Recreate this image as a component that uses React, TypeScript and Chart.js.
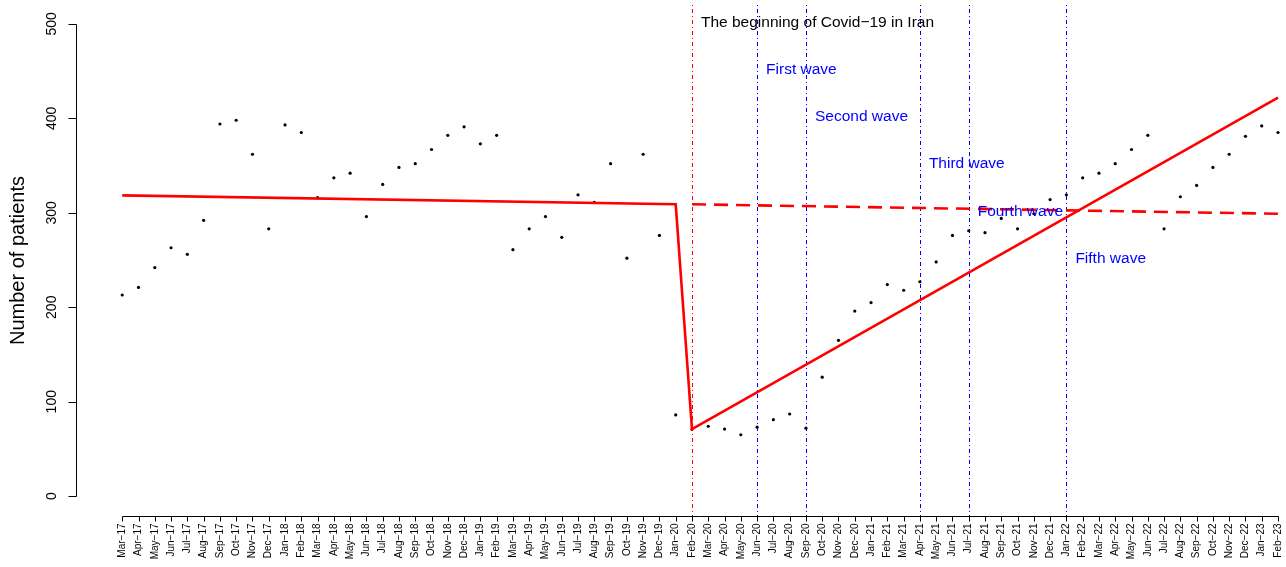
import React, { useEffect, useRef } from "react";
import { Chart, registerables } from "chart.js";

Chart.register(...registerables);

// Monthly reporting periods
const months = [
  "Mar−17", "Apr−17", "May−17", "Jun−17", "Jul−17", "Aug−17", "Sep−17", "Oct−17", "Nov−17", "Dec−17", "Jan−18", "Feb−18",
  "Mar−18", "Apr−18", "May−18", "Jun−18", "Jul−18", "Aug−18", "Sep−18", "Oct−18", "Nov−18", "Dec−18", "Jan−19", "Feb−19",
  "Mar−19", "Apr−19", "May−19", "Jun−19", "Jul−19", "Aug−19", "Sep−19", "Oct−19", "Nov−19", "Dec−19", "Jan−20", "Feb−20",
  "Mar−20", "Apr−20", "May−20", "Jun−20", "Jul−20", "Aug−20", "Sep−20", "Oct−20", "Nov−20", "Dec−20", "Jan−21", "Feb−21",
  "Mar−21", "Apr−21", "May−21", "Jun−21", "Jul−21", "Aug−21", "Sep−21", "Oct−21", "Nov−21", "Dec−21", "Jan−22", "Feb−22",
  "Mar−22", "Apr−22", "May−22", "Jun−22", "Jul−22", "Aug−22", "Sep−22", "Oct−22", "Nov−22", "Dec−22", "Jan−23", "Feb−23",
];

// Observed number of patients per month
const patients = [
  213, 221, 242, 263, 256, 292, 394, 398, 362, 283, 393, 385,
  316, 337, 342, 296, 330, 348, 352, 367, 382, 391, 373, 382,
  261, 283, 296, 274, 319, 311, 352, 252, 362, 276, 86, 71,
  74, 71, 65, 73, 81, 87, 72, 126, 165, 196, 205, 224,
  218, 227, 248, 276, 281, 279, 294, 283, 299, 314, 319, 337,
  342, 352, 367, 382, 283, 317, 329, 348, 362, 381, 392, 385,
];

// Segmented regression fit (pre‑ and post‑pandemic segments)
const fitMonths = ["Mar−17", "Jan−20", "Feb−20", "Feb−23"];
const fitValues = [318.5, 309, 71, 422];

// Pre‑pandemic trend projected forward
const counterfactualMonths = ["Feb−20", "Feb−23"];
const counterfactualValues = [309, 299];

// Event markers
const covidStart = "Feb−20";
const covidText = "The beginning of Covid−19 in Iran";
const waveStarts = ["Jun−20", "Sep−20", "Apr−21", "Jul−21", "Jan−22"];
const waveNames = ["First wave", "Second wave", "Third wave", "Fourth wave", "Fifth wave"];
const noteLevels = [500, 450, 400, 350, 300, 250];

const yTicks = [0, 100, 200, 300, 400, 500];
const yTitle = "Number of patients";

const Y_MIN = -21;
const Y_MAX = 520;
const X_MIN = -2.84;
const X_MAX = 71.49;

const FONT = "'Liberation Sans', Arial, Helvetica, sans-serif";
const idx = (m: string) => months.indexOf(m);

const rAxesPlugin = {
  id: "rAxes",
  beforeDatasetsDraw(chart: any) {
    // Dot‑dash reference lines at the start of the pandemic and of each wave
    const { ctx, chartArea } = chart;
    const xs = chart.scales.x;
    const marks = [{ m: covidStart, c: "#FF0000" }, ...waveStarts.map((m) => ({ m, c: "#0000FF" }))];
    ctx.save();
    ctx.lineWidth = 1;
    ctx.setLineDash([1, 3, 4, 3]);
    marks.forEach(({ m, c }) => {
      const px = Math.round(xs.getPixelForValue(idx(m))) + 0.5;
      ctx.strokeStyle = c;
      ctx.beginPath();
      ctx.moveTo(px, chartArea.top);
      ctx.lineTo(px, chartArea.bottom);
      ctx.stroke();
    });
    ctx.restore();
  },
  afterDraw(chart: any) {
    const { ctx, chartArea } = chart;
    const xs = chart.scales.x;
    const ys = chart.scales.y;
    ctx.save();

    // Event and wave annotations
    ctx.textAlign = "left";
    ctx.textBaseline = "middle";
    ctx.font = `15.5px ${FONT}`;
    ctx.fillStyle = "#000000";
    ctx.fillText(covidText, xs.getPixelForValue(idx(covidStart)) + 9, ys.getPixelForValue(noteLevels[0]) - 1.5);
    ctx.fillStyle = "#0000FF";
    waveStarts.forEach((m, i) => {
      ctx.fillText(waveNames[i], xs.getPixelForValue(idx(m)) + 9, ys.getPixelForValue(noteLevels[i + 1]) - 1.5);
    });

    ctx.strokeStyle = "#000000";
    ctx.fillStyle = "#000000";
    ctx.lineWidth = 1;

    // Y axis: line spans the tick range, ticks point outward
    const ax = Math.round(chartArea.left) + 0.5;
    const y0 = ys.getPixelForValue(yTicks[0]);
    const y1 = ys.getPixelForValue(yTicks[yTicks.length - 1]);
    ctx.beginPath();
    ctx.moveTo(ax, Math.round(y0) + 0.5);
    ctx.lineTo(ax, Math.round(y1) + 0.5);
    yTicks.forEach((t) => {
      const py = Math.round(ys.getPixelForValue(t)) + 0.5;
      ctx.moveTo(ax, py);
      ctx.lineTo(ax - 8, py);
    });
    ctx.stroke();

    ctx.font = `14px ${FONT}`;
    ctx.textAlign = "center";
    ctx.textBaseline = "middle";
    yTicks.forEach((t) => {
      ctx.save();
      ctx.translate(52.5, ys.getPixelForValue(t));
      ctx.rotate(-Math.PI / 2);
      ctx.fillText(String(t), 0, 0);
      ctx.restore();
    });

    ctx.save();
    ctx.font = `20px ${FONT}`;
    ctx.translate(18, (chartArea.top + chartArea.bottom) / 2);
    ctx.rotate(-Math.PI / 2);
    ctx.fillText(yTitle, 0, 0);
    ctx.restore();

    // X axis: one tick per month
    const ay = Math.round(chartArea.bottom) + 0.5;
    const x0 = Math.round(xs.getPixelForValue(0)) + 0.5;
    const x1 = Math.round(xs.getPixelForValue(months.length - 1)) + 0.5;
    ctx.beginPath();
    ctx.moveTo(x0, ay);
    ctx.lineTo(x1, ay);
    months.forEach((_, i) => {
      const px = Math.round(xs.getPixelForValue(i)) + 0.5;
      ctx.moveTo(px, ay);
      ctx.lineTo(px, ay + 5);
    });
    ctx.stroke();

    ctx.font = `10px ${FONT}`;
    ctx.textAlign = "right";
    ctx.textBaseline = "middle";
    months.forEach((m, i) => {
      ctx.save();
      ctx.translate(xs.getPixelForValue(i), ay + 7);
      ctx.rotate(-Math.PI / 2);
      ctx.fillText(m, 0, 0);
      ctx.restore();
    });

    ctx.restore();
  },
};

export default function App() {
  const canvasRef = useRef<HTMLCanvasElement | null>(null);

  useEffect(() => {
    const canvas = canvasRef.current;
    if (!canvas) return;

    const chart = new Chart(canvas, {
      type: "scatter",
      data: {
        datasets: [
          {
            label: "Patients",
            data: patients.map((v, i) => ({ x: i, y: v })),
            pointRadius: 1.6,
            pointBackgroundColor: "#000000",
            pointBorderWidth: 0,
            showLine: false,
            order: 5,
          },
          {
            label: "Counterfactual",
            data: counterfactualMonths.map((m, i) => ({ x: idx(m), y: counterfactualValues[i] })),
            showLine: true,
            borderColor: "#FF0000",
            borderWidth: 2.6,
            borderDash: [14, 8],
            pointRadius: 0,
            order: 2,
          },
          {
            label: "Fitted",
            data: fitMonths.map((m, i) => ({ x: idx(m), y: fitValues[i] })),
            showLine: true,
            borderColor: "#FF0000",
            borderWidth: 2.6,
            pointRadius: 0,
            order: 1,
          },
        ],
      },
      options: {
        animation: false,
        responsive: false,
        maintainAspectRatio: false,
        devicePixelRatio: 1,
        layout: { autoPadding: false, padding: { left: 76, top: 5, right: 0, bottom: 567 - 516 } },
        plugins: {
          legend: { display: false },
          tooltip: { enabled: false },
        },
        scales: {
          x: { type: "linear", min: X_MIN, max: X_MAX, display: false },
          y: { type: "linear", min: Y_MIN, max: Y_MAX, display: false },
        },
      },
      plugins: [rAxesPlugin],
    });

    return () => chart.destroy();
  }, []);

  return (
    <div style={{ position: "absolute", left: 0, top: 0, width: 1286, height: 567, background: "#ffffff" }}>
      <canvas ref={canvasRef} width={1286} height={567} style={{ display: "block" }} />
    </div>
  );
}
